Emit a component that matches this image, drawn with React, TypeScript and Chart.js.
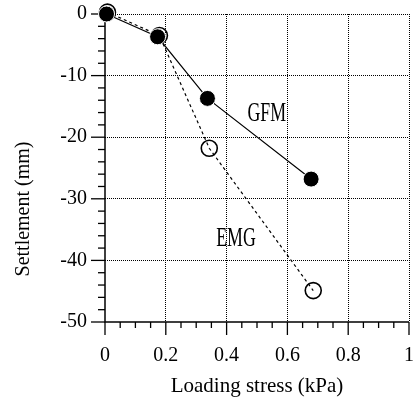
import React, { useEffect, useRef } from 'react';
import { Chart, registerables } from 'chart.js';

Chart.register(...registerables);

// ---- data ----
const gfmX = [0.005, 0.173, 0.337, 0.678];
const gfmY = [0, -3.7, -13.7, -26.8];
const emgX = [0.008, 0.179, 0.343, 0.685];
const emgY = [0.3, -3.5, -21.8, -44.9];

const xTicks = [0, 0.2, 0.4, 0.6, 0.8, 1];
const xTickLabels = ['0', '0.2', '0.4', '0.6', '0.8', '1'];
const yTicks = [0, -10, -20, -30, -40, -50];
const yTickLabels = ['0', '-10', '-20', '-30', '-40', '-50'];

const seriesNames = ['GFM', 'EMG'];
const labelX = [0.532, 0.431];
const labelY = [-16.2, -36.5];

const xTitle = 'Loading stress (kPa)';
const yTitle = 'Settlement (mm)';

const FONT = '"Liberation Serif", "Times New Roman", serif';

const axesPlugin = {
  id: 'axesPlugin',
  beforeDatasetsDraw(chart: any) {
    const { ctx, chartArea, scales } = chart;
    const xs = scales.x;
    const ys = scales.y;
    ctx.save();
    ctx.strokeStyle = '#000';
    ctx.lineWidth = 1.5;
    ctx.setLineDash([]);
    // axes
    ctx.beginPath();
    ctx.moveTo(chartArea.left, chartArea.top);
    ctx.lineTo(chartArea.left, chartArea.bottom);
    ctx.lineTo(chartArea.right, chartArea.bottom);
    ctx.stroke();
    // x ticks (minor every 0.05)
    ctx.lineWidth = 1.3;
    for (let i = 0; i <= 20; i++) {
      const px = xs.getPixelForValue(i / 20);
      const len = i % 4 === 0 ? 13 : 6;
      ctx.beginPath();
      ctx.moveTo(px, chartArea.bottom);
      ctx.lineTo(px, chartArea.bottom + len);
      ctx.stroke();
    }
    // y ticks (minor every 2)
    for (let i = 0; i <= 25; i++) {
      const py = ys.getPixelForValue(-2 * i);
      const len = i % 5 === 0 ? 14 : 7;
      ctx.beginPath();
      ctx.moveTo(chartArea.left, py);
      ctx.lineTo(chartArea.left - len, py);
      ctx.stroke();
    }
    ctx.restore();
  },
  afterDatasetsDraw(chart: any) {
    const { ctx, scales, chartArea } = chart;
    ctx.save();
    ctx.fillStyle = '#000';
    // series labels (condensed serif)
    ctx.font = `27px ${FONT}`;
    ctx.textAlign = 'center';
    ctx.textBaseline = 'middle';
    for (let i = 0; i < seriesNames.length; i++) {
      const px = scales.x.getPixelForValue(labelX[i]);
      const py = scales.y.getPixelForValue(labelY[i]);
      ctx.save();
      ctx.translate(px, py);
      ctx.scale(0.66, 1);
      ctx.fillText(seriesNames[i], 0, 0);
      ctx.restore();
    }
    // y title
    ctx.font = `20px ${FONT}`;
    ctx.save();
    ctx.translate(24, chartArea.bottom - 113);
    ctx.rotate(-Math.PI / 2);
    ctx.fillText(yTitle, 0, 0);
    ctx.restore();
    ctx.restore();
  },
};

const zeroPad = (s: any) => {
  s.paddingTop = 0;
  s.paddingBottom = 0;
  s.paddingLeft = 0;
  s.paddingRight = 0;
};

export default function App() {
  const ref = useRef<HTMLCanvasElement>(null);
  useEffect(() => {
    document.body.style.margin = '0';
    const canvas = ref.current!;
    const chart = new Chart(canvas, {
      type: 'line',
      data: {
        datasets: [
          {
            label: seriesNames[0],
            data: gfmX.map((x, i) => ({ x, y: gfmY[i] })),
            borderColor: '#000',
            borderWidth: 1.2,
            pointRadius: 8,
            pointBackgroundColor: '#000',
            pointBorderColor: '#fff',
            pointBorderWidth: 1,
            fill: false,
            tension: 0,
            clip: false as any,
          },
          {
            label: seriesNames[1],
            data: emgX.map((x, i) => ({ x, y: emgY[i] })),
            borderColor: '#000',
            borderWidth: 1.2,
            borderDash: [3, 3],
            pointRadius: 8,
            pointBackgroundColor: 'rgba(0,0,0,0)',
            pointBorderColor: '#000',
            pointBorderWidth: 1.6,
            fill: false,
            tension: 0,
            clip: false as any,
          },
        ],
      },
      options: {
        animation: false,
        responsive: false,
        events: [],
        layout: { autoPadding: false, padding: { top: 14, right: 5, left: 0, bottom: 0 } },
        plugins: { legend: { display: false }, tooltip: { enabled: false } },
        scales: {
          x: {
            type: 'linear',
            min: 0,
            max: 1,
            afterBuildTicks: (s: any) => {
              s.ticks = xTicks.map((v) => ({ value: v }));
            },
            afterFit: (s: any) => {
              s.height = 79;
              zeroPad(s);
            },
            ticks: {
              callback: (_v: any, i: number) => xTickLabels[i],
              font: { family: FONT, size: 20 },
              color: '#000',
              padding: 22,
              maxRotation: 0,
            },
            grid: {
              color: (c: any) => (c.tick && c.tick.value === 0 ? 'rgba(0,0,0,0)' : '#000'),
              lineWidth: 1,
              drawTicks: false,
            },
            border: { display: false, dash: [1, 1] },
            title: {
              display: true,
              text: xTitle,
              font: { family: FONT, size: 21 },
              color: '#000',
              padding: { top: 0, bottom: 2 },
            },
          },
          y: {
            type: 'linear',
            min: -50,
            max: 0,
            afterBuildTicks: (s: any) => {
              s.ticks = yTicks.map((v) => ({ value: v }));
            },
            afterFit: (s: any) => {
              s.width = 105;
              zeroPad(s);
            },
            ticks: {
              callback: (_v: any, i: number) => yTickLabels[i],
              font: { family: FONT, size: 20 },
              color: '#000',
              padding: 18,
            },
            grid: {
              color: (c: any) => (c.tick && c.tick.value === -50 ? 'rgba(0,0,0,0)' : '#000'),
              lineWidth: 1,
              drawTicks: false,
            },
            border: { display: false, dash: [1, 1] },
          },
        },
      },
      plugins: [axesPlugin],
    } as any);
    return () => chart.destroy();
  }, []);
  return (
    <div style={{ width: 414, height: 401, background: '#fff' }}>
      <canvas ref={ref} width={414} height={401} style={{ display: 'block' }} />
    </div>
  );
}
